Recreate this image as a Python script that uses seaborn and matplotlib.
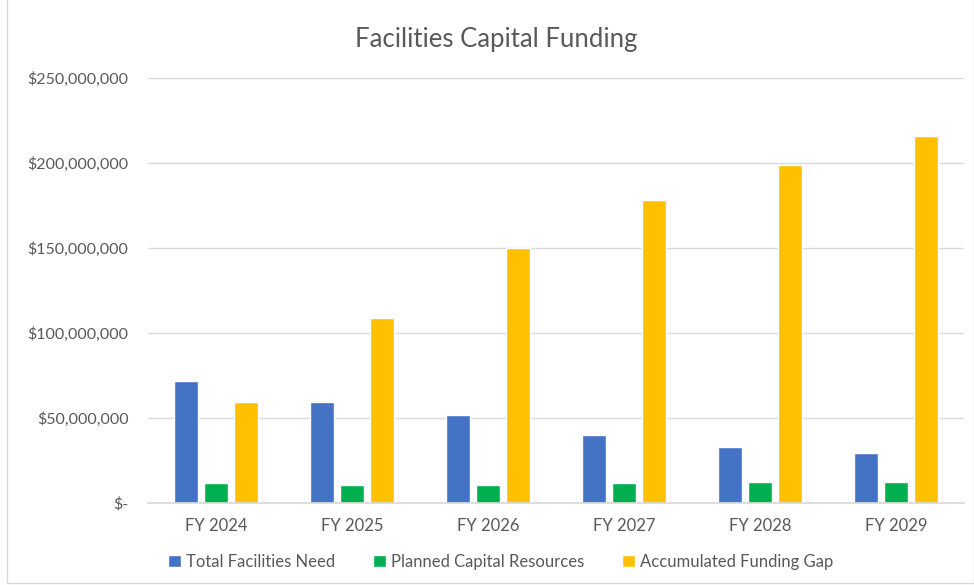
import matplotlib
matplotlib.use("Agg")
import matplotlib.pyplot as plt
import matplotlib.ticker as mticker
import seaborn as sns
import pandas as pd

years = ["FY 2024", "FY 2025", "FY 2026", "FY 2027", "FY 2028", "FY 2029"]
total_need = [71.5e6, 59.7e6, 51.9e6, 40.1e6, 33.0e6, 29.3e6]
planned_resources = [11.8e6, 10.8e6, 10.8e6, 11.8e6, 12.4e6, 12.4e6]
funding_gap = [59.7e6, 109.0e6, 150.0e6, 178.0e6, 199.0e6, 216.0e6]
series_names = ["Total Facilities Need", "Planned Capital Resources", "Accumulated Funding Gap"]
colors = ["#4472C4", "#00B050", "#FFC000"]

rows = []
for name, vals in zip(series_names, [total_need, planned_resources, funding_gap]):
    for y, v in zip(years, vals):
        rows.append({"Year": y, "Series": name, "Value": v})
df = pd.DataFrame(rows)

sns.set_theme(style="white")
plt.rcParams['font.family'] = ['Lato', 'DejaVu Sans']
text_color = "#595959"

fig = plt.figure(figsize=(9.74, 5.85), dpi=100)
ax = fig.add_axes([148/974, 1-503/585, 816/974, 425/585])

sns.barplot(data=df, x="Year", y="Value", hue="Series", palette=colors,
            width=0.666, gap=0.2, ax=ax, saturation=1, legend=True)

ax.set_ylim(0, 250e6)
ax.set_xlim(-0.5, 5.5)
ax.yaxis.set_major_locator(mticker.MultipleLocator(50e6))

def fmt(v, pos):
    if v == 0:
        return "$-"
    return "${:,.0f}".format(v)
ax.yaxis.set_major_formatter(mticker.FuncFormatter(fmt))
ax.grid(axis="y", color="#D9D9D9", linewidth=1)
ax.set_axisbelow(True)
for s in ["top", "right", "left"]:
    ax.spines[s].set_visible(False)
ax.spines["bottom"].set_color("#D9D9D9")
ax.set_xlabel("")
ax.set_ylabel("")
ax.tick_params(axis="x", length=0, labelsize=12, labelcolor=text_color, pad=11)
ax.tick_params(axis="y", length=0, labelsize=11.5, labelcolor=text_color, pad=14)

handles, labels = ax.get_legend_handles_labels()
ax.legend_.remove()
fig.legend(handles, labels, loc="center", bbox_to_anchor=(0.514, 1-562/585), ncol=3,
           frameon=False, fontsize=12, labelcolor=text_color, handlelength=0.75,
           handleheight=0.75, handletextpad=0.3, columnspacing=2.3)

fig.text(0.510, 1-40/585, "Facilities Capital Funding", ha="center", va="center",
         fontsize=18.5, color=text_color)

border = plt.Rectangle((7/974, 2/585), 967/974, 590/585, transform=fig.transFigure,
                       fill=False, edgecolor="#D9D9D9", linewidth=1)
fig.patches.append(border)

fig.savefig("out.png", dpi=100)
